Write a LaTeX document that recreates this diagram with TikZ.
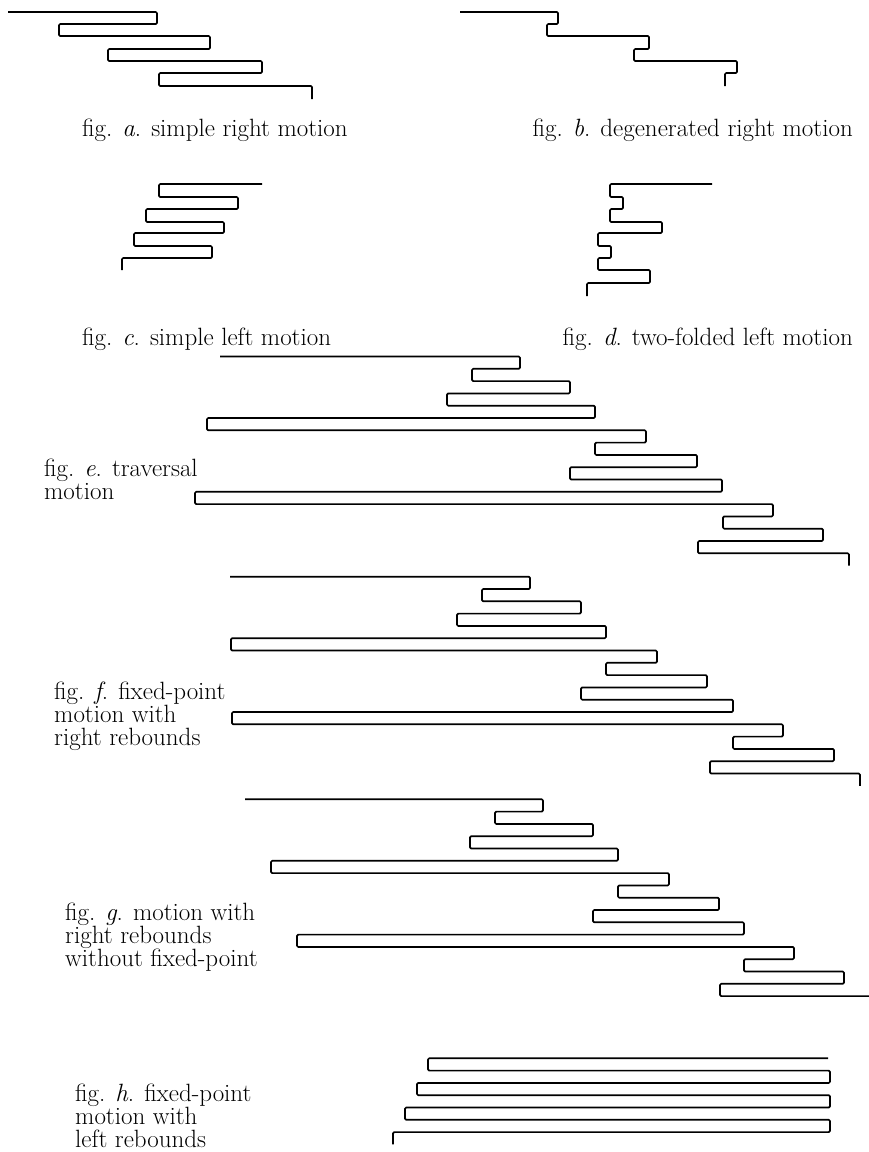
\documentclass[tikz,border=0pt]{standalone}
\begin{document}
\tikzset{
  zz/.style={draw=black, line width=1.7pt, line join=round, rounded corners=1.2pt},
  lbl/.style={anchor=base west, inner sep=0pt, align=left, font=\fontsize{25}{23}\selectfont},
  lble/.style={lbl, anchor=base east},
}
\begin{tikzpicture}[x=1pt,y=-1pt]
\useasboundingbox (0,0) rectangle (869,1152);
% fig a
\draw[zz] (8,12) -- (157,12) -- (157,24) -- (59,24) -- (59,36) -- (210,36) -- (210,49) -- (108,49) -- (108,61) -- (262,61) -- (262,73) -- (159,73) -- (159,86) -- (312,86) -- (312,99);
% fig b
\draw[zz] (460,12) -- (558,12) -- (558,24) -- (547,24) -- (547,36) -- (649,36) -- (649,49) -- (634,49) -- (634,61) -- (737,61) -- (737,73) -- (725,73) -- (725,86);
% fig c
\draw[zz] (262,184) -- (159,184) -- (159,197) -- (238,197) -- (238,209) -- (146,209) -- (146,222) -- (224,222) -- (224,233) -- (134,233) -- (134,246) -- (212,246) -- (212,258) -- (122,258) -- (122,270);
% fig d
\draw[zz] (712,184) -- (610,184) -- (610,197) -- (623,197) -- (623,209) -- (610,209) -- (610,222) -- (662,222) -- (662,233) -- (598,233) -- (598,246) -- (611,246) -- (611,258) -- (598,258) -- (598,270) -- (650,270) -- (650,283) -- (587,283) -- (587,296);
% fig e
\draw[zz] (220,356.5) -- (520,356.5) -- (520,368.8) -- (472,368.8) -- (472,381.1) -- (570,381.1) -- (570,393.4) -- (447,393.4) -- (447,405.7) -- (595,405.7) -- (595,418) -- (207,418) -- (207,430.3) -- (646,430.3) -- (646,442.6) -- (595,442.6) -- (595,454.9) -- (697,454.9) -- (697,467.2) -- (570,467.2) -- (570,479.5) -- (722,479.5) -- (722,491.8) -- (195,491.8) -- (195,504.1) -- (773,504.1) -- (773,516.4) -- (723,516.4) -- (723,528.7) -- (823,528.7) -- (823,541) -- (698,541) -- (698,553.3) -- (849,553.3) -- (849,565.6);
% fig f
\draw[zz] (230,576.7) -- (530,576.7) -- (530,589) -- (482,589) -- (482,601.3) -- (581,601.3) -- (581,613.6) -- (457,613.6) -- (457,625.9) -- (606,625.9) -- (606,638.2) -- (231,638.2) -- (231,650.5) -- (657,650.5) -- (657,662.8) -- (606,662.8) -- (606,675.1) -- (707,675.1) -- (707,687.4) -- (581,687.4) -- (581,699.7) -- (733,699.7) -- (733,712) -- (232,712) -- (232,724.3) -- (783,724.3) -- (783,736.6) -- (733,736.6) -- (733,748.9) -- (834,748.9) -- (834,761.2) -- (710,761.2) -- (710,773.5) -- (860,773.5) -- (860,785.8);
% fig g
\draw[zz] (245,799.3) -- (543,799.3) -- (543,811.6) -- (495,811.6) -- (495,823.9) -- (593,823.9) -- (593,836.2) -- (470,836.2) -- (470,848.5) -- (618,848.5) -- (618,860.8) -- (271,860.8) -- (271,873.1) -- (669,873.1) -- (669,885.4) -- (618,885.4) -- (618,897.7) -- (719,897.7) -- (719,910) -- (593,910) -- (593,922.3) -- (744,922.3) -- (744,934.6) -- (297,934.6) -- (297,946.9) -- (794,946.9) -- (794,959.2) -- (744,959.2) -- (744,971.5) -- (844,971.5) -- (844,983.8) -- (720,983.8) -- (720,996.1) -- (869,996.1);
% fig h
\draw[zz] (828,1058.3) -- (428,1058.3) -- (428,1070.6) -- (830,1070.6) -- (830,1082.9) -- (417,1082.9) -- (417,1095.2) -- (830,1095.2) -- (830,1107.5) -- (405,1107.5) -- (405,1119.8) -- (830,1119.8) -- (830,1132.1) -- (393,1132.1) -- (393,1144.4);
% labels (multi-line nodes anchored at the baseline of their last line)
\node[lbl] (la) at (82,136) {fig. \textit{a}. simple right motion};
\node[lble] (lb) at (853,136) {fig. \textit{b}. degenerated right motion};
\node[lbl] (lc) at (82,345) {fig. \textit{c}. simple left motion};
\node[lble] (ld) at (853,345) {fig. \textit{d}. two-folded left motion};
\node[lbl] (le) at (44,499) {fig. \textit{e}. traversal\\motion};
\node[lbl] (lf) at (54,745) {fig. \textit{f}. fixed-point\\motion with\\right rebounds};
\node[lbl] (lg) at (65,966) {fig. \textit{g}. motion with\\right rebounds\\without fixed-point};
\node[lbl] (lh) at (75,1147) {fig. \textit{h}. fixed-point\\motion with\\left rebounds};
\end{tikzpicture}
\end{document}
